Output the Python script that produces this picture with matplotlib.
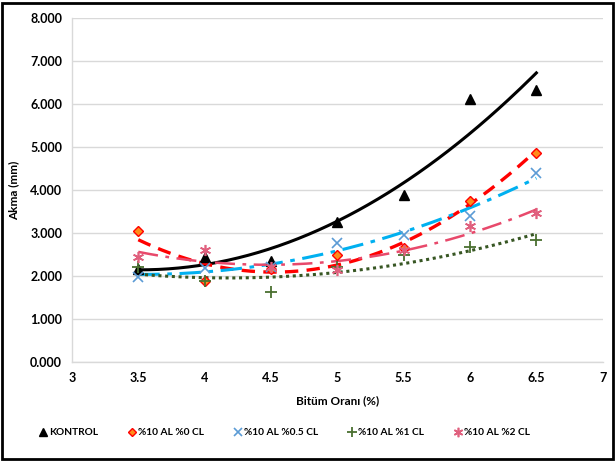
import matplotlib.pyplot as plt
import numpy as np
from matplotlib.lines import Line2D

plt.rcParams["font.family"] = ["Lato", "DejaVu Sans"]
plt.rcParams["font.weight"] = "bold"

bitum = [3.5, 4.0, 4.5, 5.0, 5.5, 6.0, 6.5]
kontrol = [2.17, 2.44, 2.35, 3.25, 3.88, 6.12, 6.33]
al_cl0 = [3.05, 1.88, 2.16, 2.50, 2.65, 3.75, 4.87]
al_cl05 = [1.98, 2.18, 2.20, 2.78, 2.95, 3.40, 4.40]
al_cl1 = [2.20, 1.88, 1.63, 2.20, 2.50, 2.68, 2.84]
al_cl2 = [2.45, 2.60, 2.20, 2.15, 2.60, 3.17, 3.47]

series = [
    ("KONTROL", kontrol, dict(marker="^", color="black", ms=7, mec="black"),
     dict(color="black", ls="-", lw=2.2)),
    ("%10 AL %0 CL", al_cl0, dict(marker="D", color="#FF8C1A", ms=5, mec="#FF0000"),
     dict(color="#FF0000", ls=(0, (4, 2.5)), lw=2.4)),
    ("%10 AL %0.5 CL", al_cl05, dict(marker="x", color="#5B9BD5", ms=7, mew=1.2),
     dict(color="#00B0F0", ls=(0, (7, 2.5, 1.5, 2.5)), lw=2.2)),
    ("%10 AL %1 CL", al_cl1, dict(marker="+", color="#4A7030", ms=8, mew=1.3),
     dict(color="#375623", ls=(0, (1, 1.2)), lw=2.2)),
    ("%10 AL %2 CL", al_cl2, dict(marker=(6, 2, 0), color="#E0607E", ms=8, mew=1.2),
     dict(color="#E8496B", ls=(0, (8, 3, 1.5, 3)), lw=1.8)),
]

fig = plt.figure(figsize=(6.15, 4.63), dpi=100)
ax = fig.add_axes([0.117, 0.218, 0.863, 0.743])

xs = np.linspace(3.5, 6.5, 200)
handles = []
for name, vals, mk, ln in series:
    ax.plot(bitum, vals, ls="none", zorder=3, **mk)
    coef = np.polyfit(bitum, vals, 2)
    ax.plot(xs, np.polyval(coef, xs), zorder=2, **ln)
    leg_mk = dict(mk, ms=mk["ms"] * 0.85)
    handles.append(Line2D([], [], ls="none", label=name, **leg_mk))

ax.set_xlim(3, 7)
ax.set_ylim(0, 8)
ax.set_yticks(np.arange(0, 9, 1))
ax.set_yticklabels([f"{v:.3f}" for v in range(9)])
ax.set_xticks(np.arange(3, 7.5, 0.5))
ax.set_xticklabels(["3", "3.5", "4", "4.5", "5", "5.5", "6", "6.5", "7"])
ax.tick_params(length=0, labelsize=9, pad=7)
ax.grid(axis="y", color="#D9D9D9", lw=1)
ax.set_axisbelow(True)
for side in ["top", "right"]:
    ax.spines[side].set_visible(False)
for side in ["left", "bottom"]:
    ax.spines[side].set_color("#D9D9D9")
    ax.spines[side].set_linewidth(1)

ax.set_xlabel("Bitüm Oranı (%)", fontsize=8.5, fontweight="bold", labelpad=8)
ax.set_ylabel("Akma (mm)", fontsize=8.5, fontweight="bold", labelpad=8)

fig.legend(handles=handles, loc="center left", bbox_to_anchor=(38 / 615, 0.065),
           ncol=5, frameon=False, fontsize=7.3, handlelength=0.9,
           handletextpad=0.15, columnspacing=2.9, borderpad=0, borderaxespad=0)

fig.add_artist(plt.Rectangle((0.004, 0.008), 0.992, 0.986, transform=fig.transFigure,
                             fill=False, edgecolor="black", lw=2))

fig.savefig("out.png", dpi=100)
